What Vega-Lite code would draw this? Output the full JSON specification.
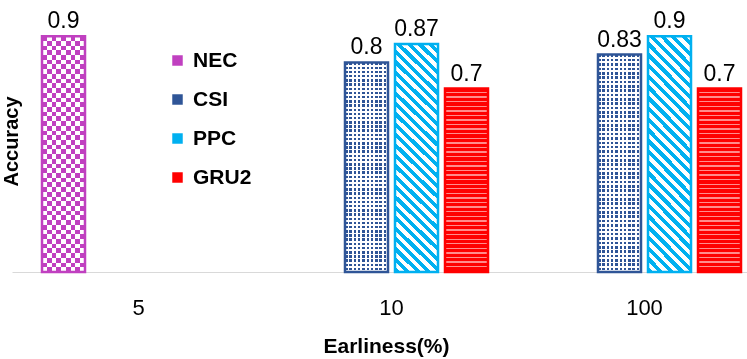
{
  "width": 735,
  "height": 262,
  "autosize": "none",
  "padding": {"left": 12, "top": 10, "right": 0, "bottom": 87},
  "background": "white",
  "config": {"view": {"stroke": null}, "font": "Liberation Sans"},
  "data": {"values": [
    {"cat": "5", "model": "NEC", "acc": 0.9},
    {"cat": "10", "model": "CSI", "acc": 0.8},
    {"cat": "10", "model": "PPC", "acc": 0.87},
    {"cat": "10", "model": "GRU2", "acc": 0.7},
    {"cat": "100", "model": "CSI", "acc": 0.83},
    {"cat": "100", "model": "PPC", "acc": 0.9},
    {"cat": "100", "model": "GRU2", "acc": 0.7}
  ]},
  "encoding": {
    "x": {"field": "cat", "type": "nominal",
      "scale": {"domain": ["5", "10", "100"], "range": [0, 759], "paddingInner": 0, "paddingOuter": 0},
      "axis": {"title": "Earliness(%)", "labelAngle": 0, "ticks": false, "tickSize": 0, "labelPadding": 42, "labelBaseline": "alphabetic",
        "labelFontSize": 22, "labelFont": "Liberation Sans", "labelColor": "#000", "domainColor": "#D9D9D9", "domainWidth": 1, "grid": false,
        "titleFontSize": 21, "titleFontWeight": "bold", "titleFont": "Liberation Sans", "titleColor": "#000",
        "titleX": 374, "titleY": 80, "titleBaseline": "alphabetic", "titleAlign": "center"}},
    "xOffset": {"field": "model", "type": "nominal", "scale": {"domain": ["NEC", "CSI", "PPC", "GRU2"], "paddingInner": 0.14, "paddingOuter": 0.6}},
    "y": {"field": "acc", "type": "quantitative", "scale": {"domain": [0, 1], "nice": false},
      "axis": {"title": "Accuracy", "domain": false, "ticks": false, "labels": false, "grid": false,
        "titleFontSize": 20, "titleFontWeight": "bold", "titleFont": "Liberation Sans", "titleColor": "#000",
        "titleX": 5, "titleY": 131, "titleAngle": -90, "titleBaseline": "alphabetic", "titleAlign": "center"}}
  },
  "layer": [
    {
      "mark": {"type": "bar"},
      "encoding": {
        "color": {"field": "model", "type": "nominal",
          "scale": {"domain": ["NEC", "CSI", "PPC", "GRU2"], "range": ["#C040C0", "#2F5597", "#00B0F0", "#FF0000"]},
          "legend": {"title": null, "orient": "none", "legendX": 155, "legendY": 40, "symbolType": "square", "symbolSize": 110,
            "labelFontSize": 21, "labelFontWeight": "bold", "labelFont": "Liberation Sans", "labelColor": "#000",
            "rowPadding": 17, "labelOffset": 5, "padding": 0, "symbolStrokeWidth": 0}}
      }
    },
    {
      "transform": [{"filter": "datum.model === 'NEC'"}],
      "mark": {"type": "bar", "fill": {"gradient": "linear", "x1": 0, "y1": 0, "x2": 1, "y2": 0, "stops": [
        {"offset": 0, "color": "#000"}, {"offset": 0.1111, "color": "#000"}, {"offset": 0.1111, "color": "#fff"},
        {"offset": 0.2222, "color": "#fff"}, {"offset": 0.2222, "color": "#000"}, {"offset": 0.3333, "color": "#000"},
        {"offset": 0.3333, "color": "#fff"}, {"offset": 0.4444, "color": "#fff"}, {"offset": 0.4444, "color": "#000"},
        {"offset": 0.5556, "color": "#000"}, {"offset": 0.5556, "color": "#fff"}, {"offset": 0.6667, "color": "#fff"},
        {"offset": 0.6667, "color": "#000"}, {"offset": 0.7778, "color": "#000"}, {"offset": 0.7778, "color": "#fff"},
        {"offset": 0.8889, "color": "#fff"}, {"offset": 0.8889, "color": "#000"}, {"offset": 1, "color": "#000"}
      ]}}
    },
    {
      "transform": [{"filter": "datum.model === 'NEC'"}],
      "mark": {"type": "bar", "blend": "difference", "fill": {"gradient": "linear", "x1": 0, "y1": 0, "x2": 0, "y2": 1, "stops": [
        {"offset": 0, "color": "#000"},
        {"offset": 0.02, "color": "#000"}, {"offset": 0.02, "color": "#fff"},
        {"offset": 0.04, "color": "#fff"}, {"offset": 0.04, "color": "#000"},
        {"offset": 0.06, "color": "#000"}, {"offset": 0.06, "color": "#fff"},
        {"offset": 0.08, "color": "#fff"}, {"offset": 0.08, "color": "#000"},
        {"offset": 0.1, "color": "#000"}, {"offset": 0.1, "color": "#fff"},
        {"offset": 0.12, "color": "#fff"}, {"offset": 0.12, "color": "#000"},
        {"offset": 0.14, "color": "#000"}, {"offset": 0.14, "color": "#fff"},
        {"offset": 0.16, "color": "#fff"}, {"offset": 0.16, "color": "#000"},
        {"offset": 0.18, "color": "#000"}, {"offset": 0.18, "color": "#fff"},
        {"offset": 0.2, "color": "#fff"}, {"offset": 0.2, "color": "#000"},
        {"offset": 0.22, "color": "#000"}, {"offset": 0.22, "color": "#fff"},
        {"offset": 0.24, "color": "#fff"}, {"offset": 0.24, "color": "#000"},
        {"offset": 0.26, "color": "#000"}, {"offset": 0.26, "color": "#fff"},
        {"offset": 0.28, "color": "#fff"}, {"offset": 0.28, "color": "#000"},
        {"offset": 0.3, "color": "#000"}, {"offset": 0.3, "color": "#fff"},
        {"offset": 0.32, "color": "#fff"}, {"offset": 0.32, "color": "#000"},
        {"offset": 0.34, "color": "#000"}, {"offset": 0.34, "color": "#fff"},
        {"offset": 0.36, "color": "#fff"}, {"offset": 0.36, "color": "#000"},
        {"offset": 0.38, "color": "#000"}, {"offset": 0.38, "color": "#fff"},
        {"offset": 0.4, "color": "#fff"}, {"offset": 0.4, "color": "#000"},
        {"offset": 0.42, "color": "#000"}, {"offset": 0.42, "color": "#fff"},
        {"offset": 0.44, "color": "#fff"}, {"offset": 0.44, "color": "#000"},
        {"offset": 0.46, "color": "#000"}, {"offset": 0.46, "color": "#fff"},
        {"offset": 0.48, "color": "#fff"}, {"offset": 0.48, "color": "#000"},
        {"offset": 0.5, "color": "#000"}, {"offset": 0.5, "color": "#fff"},
        {"offset": 0.52, "color": "#fff"}, {"offset": 0.52, "color": "#000"},
        {"offset": 0.54, "color": "#000"}, {"offset": 0.54, "color": "#fff"},
        {"offset": 0.56, "color": "#fff"}, {"offset": 0.56, "color": "#000"},
        {"offset": 0.58, "color": "#000"}, {"offset": 0.58, "color": "#fff"},
        {"offset": 0.6, "color": "#fff"}, {"offset": 0.6, "color": "#000"},
        {"offset": 0.62, "color": "#000"}, {"offset": 0.62, "color": "#fff"},
        {"offset": 0.64, "color": "#fff"}, {"offset": 0.64, "color": "#000"},
        {"offset": 0.66, "color": "#000"}, {"offset": 0.66, "color": "#fff"},
        {"offset": 0.68, "color": "#fff"}, {"offset": 0.68, "color": "#000"},
        {"offset": 0.7, "color": "#000"}, {"offset": 0.7, "color": "#fff"},
        {"offset": 0.72, "color": "#fff"}, {"offset": 0.72, "color": "#000"},
        {"offset": 0.74, "color": "#000"}, {"offset": 0.74, "color": "#fff"},
        {"offset": 0.76, "color": "#fff"}, {"offset": 0.76, "color": "#000"},
        {"offset": 0.78, "color": "#000"}, {"offset": 0.78, "color": "#fff"},
        {"offset": 0.8, "color": "#fff"}, {"offset": 0.8, "color": "#000"},
        {"offset": 0.82, "color": "#000"}, {"offset": 0.82, "color": "#fff"},
        {"offset": 0.84, "color": "#fff"}, {"offset": 0.84, "color": "#000"},
        {"offset": 0.86, "color": "#000"}, {"offset": 0.86, "color": "#fff"},
        {"offset": 0.88, "color": "#fff"}, {"offset": 0.88, "color": "#000"},
        {"offset": 0.9, "color": "#000"}, {"offset": 0.9, "color": "#fff"},
        {"offset": 0.92, "color": "#fff"}, {"offset": 0.92, "color": "#000"},
        {"offset": 0.94, "color": "#000"}, {"offset": 0.94, "color": "#fff"},
        {"offset": 0.96, "color": "#fff"}, {"offset": 0.96, "color": "#000"},
        {"offset": 0.98, "color": "#000"}, {"offset": 0.98, "color": "#fff"},
        {"offset": 1, "color": "#fff"}
      ]}}
    },
    {
      "transform": [{"filter": "datum.model === 'NEC'"}],
      "mark": {"type": "bar", "blend": "screen", "fill": "#C040C0"}
    },
    {
      "transform": [{"filter": "datum.model === 'PPC'"}],
      "mark": {"type": "bar", "fill": {"gradient": "linear", "x1": 0, "y1": 1, "x2": 0.2124, "y2": -0.146, "stops": [
        {"offset": 0, "color": "#00B0F0"},
        {"offset": 0.0192, "color": "#00B0F0"}, {"offset": 0.0192, "color": "#fff"},
        {"offset": 0.0385, "color": "#fff"}, {"offset": 0.0385, "color": "#00B0F0"},
        {"offset": 0.0577, "color": "#00B0F0"}, {"offset": 0.0577, "color": "#fff"},
        {"offset": 0.0769, "color": "#fff"}, {"offset": 0.0769, "color": "#00B0F0"},
        {"offset": 0.0962, "color": "#00B0F0"}, {"offset": 0.0962, "color": "#fff"},
        {"offset": 0.1154, "color": "#fff"}, {"offset": 0.1154, "color": "#00B0F0"},
        {"offset": 0.1346, "color": "#00B0F0"}, {"offset": 0.1346, "color": "#fff"},
        {"offset": 0.1538, "color": "#fff"}, {"offset": 0.1538, "color": "#00B0F0"},
        {"offset": 0.1731, "color": "#00B0F0"}, {"offset": 0.1731, "color": "#fff"},
        {"offset": 0.1923, "color": "#fff"}, {"offset": 0.1923, "color": "#00B0F0"},
        {"offset": 0.2115, "color": "#00B0F0"}, {"offset": 0.2115, "color": "#fff"},
        {"offset": 0.2308, "color": "#fff"}, {"offset": 0.2308, "color": "#00B0F0"},
        {"offset": 0.25, "color": "#00B0F0"}, {"offset": 0.25, "color": "#fff"},
        {"offset": 0.2692, "color": "#fff"}, {"offset": 0.2692, "color": "#00B0F0"},
        {"offset": 0.2885, "color": "#00B0F0"}, {"offset": 0.2885, "color": "#fff"},
        {"offset": 0.3077, "color": "#fff"}, {"offset": 0.3077, "color": "#00B0F0"},
        {"offset": 0.3269, "color": "#00B0F0"}, {"offset": 0.3269, "color": "#fff"},
        {"offset": 0.3462, "color": "#fff"}, {"offset": 0.3462, "color": "#00B0F0"},
        {"offset": 0.3654, "color": "#00B0F0"}, {"offset": 0.3654, "color": "#fff"},
        {"offset": 0.3846, "color": "#fff"}, {"offset": 0.3846, "color": "#00B0F0"},
        {"offset": 0.4038, "color": "#00B0F0"}, {"offset": 0.4038, "color": "#fff"},
        {"offset": 0.4231, "color": "#fff"}, {"offset": 0.4231, "color": "#00B0F0"},
        {"offset": 0.4423, "color": "#00B0F0"}, {"offset": 0.4423, "color": "#fff"},
        {"offset": 0.4615, "color": "#fff"}, {"offset": 0.4615, "color": "#00B0F0"},
        {"offset": 0.4808, "color": "#00B0F0"}, {"offset": 0.4808, "color": "#fff"},
        {"offset": 0.5, "color": "#fff"}, {"offset": 0.5, "color": "#00B0F0"},
        {"offset": 0.5192, "color": "#00B0F0"}, {"offset": 0.5192, "color": "#fff"},
        {"offset": 0.5385, "color": "#fff"}, {"offset": 0.5385, "color": "#00B0F0"},
        {"offset": 0.5577, "color": "#00B0F0"}, {"offset": 0.5577, "color": "#fff"},
        {"offset": 0.5769, "color": "#fff"}, {"offset": 0.5769, "color": "#00B0F0"},
        {"offset": 0.5962, "color": "#00B0F0"}, {"offset": 0.5962, "color": "#fff"},
        {"offset": 0.6154, "color": "#fff"}, {"offset": 0.6154, "color": "#00B0F0"},
        {"offset": 0.6346, "color": "#00B0F0"}, {"offset": 0.6346, "color": "#fff"},
        {"offset": 0.6538, "color": "#fff"}, {"offset": 0.6538, "color": "#00B0F0"},
        {"offset": 0.6731, "color": "#00B0F0"}, {"offset": 0.6731, "color": "#fff"},
        {"offset": 0.6923, "color": "#fff"}, {"offset": 0.6923, "color": "#00B0F0"},
        {"offset": 0.7115, "color": "#00B0F0"}, {"offset": 0.7115, "color": "#fff"},
        {"offset": 0.7308, "color": "#fff"}, {"offset": 0.7308, "color": "#00B0F0"},
        {"offset": 0.75, "color": "#00B0F0"}, {"offset": 0.75, "color": "#fff"},
        {"offset": 0.7692, "color": "#fff"}, {"offset": 0.7692, "color": "#00B0F0"},
        {"offset": 0.7885, "color": "#00B0F0"}, {"offset": 0.7885, "color": "#fff"},
        {"offset": 0.8077, "color": "#fff"}, {"offset": 0.8077, "color": "#00B0F0"},
        {"offset": 0.8269, "color": "#00B0F0"}, {"offset": 0.8269, "color": "#fff"},
        {"offset": 0.8462, "color": "#fff"}, {"offset": 0.8462, "color": "#00B0F0"},
        {"offset": 0.8654, "color": "#00B0F0"}, {"offset": 0.8654, "color": "#fff"},
        {"offset": 0.8846, "color": "#fff"}, {"offset": 0.8846, "color": "#00B0F0"},
        {"offset": 0.9038, "color": "#00B0F0"}, {"offset": 0.9038, "color": "#fff"},
        {"offset": 0.9231, "color": "#fff"}, {"offset": 0.9231, "color": "#00B0F0"},
        {"offset": 0.9423, "color": "#00B0F0"}, {"offset": 0.9423, "color": "#fff"},
        {"offset": 0.9615, "color": "#fff"}, {"offset": 0.9615, "color": "#00B0F0"},
        {"offset": 0.9808, "color": "#00B0F0"}, {"offset": 0.9808, "color": "#fff"},
        {"offset": 1, "color": "#fff"}
      ]}}
    },
    {
      "transform": [{"filter": "datum.model === 'CSI'"}],
      "mark": {"type": "bar", "fill": {"gradient": "linear", "x1": 0, "y1": 0, "x2": 1, "y2": 0, "stops": [
        {"offset": 0, "color": "rgba(255,255,255,0)"}, {"offset": 0.06, "color": "rgba(255,255,255,0)"}, {"offset": 0.06, "color": "#fff"}, {"offset": 0.1, "color": "#fff"},
        {"offset": 0.1, "color": "rgba(255,255,255,0)"}, {"offset": 0.16, "color": "rgba(255,255,255,0)"}, {"offset": 0.16, "color": "#fff"}, {"offset": 0.2, "color": "#fff"},
        {"offset": 0.2, "color": "rgba(255,255,255,0)"}, {"offset": 0.26, "color": "rgba(255,255,255,0)"}, {"offset": 0.26, "color": "#fff"}, {"offset": 0.3, "color": "#fff"},
        {"offset": 0.3, "color": "rgba(255,255,255,0)"}, {"offset": 0.36, "color": "rgba(255,255,255,0)"}, {"offset": 0.36, "color": "#fff"}, {"offset": 0.4, "color": "#fff"},
        {"offset": 0.4, "color": "rgba(255,255,255,0)"}, {"offset": 0.46, "color": "rgba(255,255,255,0)"}, {"offset": 0.46, "color": "#fff"}, {"offset": 0.5, "color": "#fff"},
        {"offset": 0.5, "color": "rgba(255,255,255,0)"}, {"offset": 0.56, "color": "rgba(255,255,255,0)"}, {"offset": 0.56, "color": "#fff"}, {"offset": 0.6, "color": "#fff"},
        {"offset": 0.6, "color": "rgba(255,255,255,0)"}, {"offset": 0.66, "color": "rgba(255,255,255,0)"}, {"offset": 0.66, "color": "#fff"}, {"offset": 0.7, "color": "#fff"},
        {"offset": 0.7, "color": "rgba(255,255,255,0)"}, {"offset": 0.76, "color": "rgba(255,255,255,0)"}, {"offset": 0.76, "color": "#fff"}, {"offset": 0.8, "color": "#fff"},
        {"offset": 0.8, "color": "rgba(255,255,255,0)"}, {"offset": 0.86, "color": "rgba(255,255,255,0)"}, {"offset": 0.86, "color": "#fff"}, {"offset": 0.9, "color": "#fff"},
        {"offset": 0.9, "color": "rgba(255,255,255,0)"}, {"offset": 0.96, "color": "rgba(255,255,255,0)"}, {"offset": 0.96, "color": "#fff"}, {"offset": 1, "color": "#fff"}
      ]}}
    },
    {
      "transform": [{"filter": "datum.model === 'CSI'"}],
      "mark": {"type": "bar", "fill": {"gradient": "linear", "x1": 0, "y1": 0, "x2": 0, "y2": 1, "stops": [
        {"offset": 0, "color": "rgba(255,255,255,0)"}, {"offset": 0.012, "color": "rgba(255,255,255,0)"}, {"offset": 0.012, "color": "#fff"}, {"offset": 0.02, "color": "#fff"},
        {"offset": 0.02, "color": "rgba(255,255,255,0)"}, {"offset": 0.032, "color": "rgba(255,255,255,0)"}, {"offset": 0.032, "color": "#fff"}, {"offset": 0.04, "color": "#fff"},
        {"offset": 0.04, "color": "rgba(255,255,255,0)"}, {"offset": 0.052, "color": "rgba(255,255,255,0)"}, {"offset": 0.052, "color": "#fff"}, {"offset": 0.06, "color": "#fff"},
        {"offset": 0.06, "color": "rgba(255,255,255,0)"}, {"offset": 0.072, "color": "rgba(255,255,255,0)"}, {"offset": 0.072, "color": "#fff"}, {"offset": 0.08, "color": "#fff"},
        {"offset": 0.08, "color": "rgba(255,255,255,0)"}, {"offset": 0.092, "color": "rgba(255,255,255,0)"}, {"offset": 0.092, "color": "#fff"}, {"offset": 0.1, "color": "#fff"},
        {"offset": 0.1, "color": "rgba(255,255,255,0)"}, {"offset": 0.112, "color": "rgba(255,255,255,0)"}, {"offset": 0.112, "color": "#fff"}, {"offset": 0.12, "color": "#fff"},
        {"offset": 0.12, "color": "rgba(255,255,255,0)"}, {"offset": 0.132, "color": "rgba(255,255,255,0)"}, {"offset": 0.132, "color": "#fff"}, {"offset": 0.14, "color": "#fff"},
        {"offset": 0.14, "color": "rgba(255,255,255,0)"}, {"offset": 0.152, "color": "rgba(255,255,255,0)"}, {"offset": 0.152, "color": "#fff"}, {"offset": 0.16, "color": "#fff"},
        {"offset": 0.16, "color": "rgba(255,255,255,0)"}, {"offset": 0.172, "color": "rgba(255,255,255,0)"}, {"offset": 0.172, "color": "#fff"}, {"offset": 0.18, "color": "#fff"},
        {"offset": 0.18, "color": "rgba(255,255,255,0)"}, {"offset": 0.192, "color": "rgba(255,255,255,0)"}, {"offset": 0.192, "color": "#fff"}, {"offset": 0.2, "color": "#fff"},
        {"offset": 0.2, "color": "rgba(255,255,255,0)"}, {"offset": 0.212, "color": "rgba(255,255,255,0)"}, {"offset": 0.212, "color": "#fff"}, {"offset": 0.22, "color": "#fff"},
        {"offset": 0.22, "color": "rgba(255,255,255,0)"}, {"offset": 0.232, "color": "rgba(255,255,255,0)"}, {"offset": 0.232, "color": "#fff"}, {"offset": 0.24, "color": "#fff"},
        {"offset": 0.24, "color": "rgba(255,255,255,0)"}, {"offset": 0.252, "color": "rgba(255,255,255,0)"}, {"offset": 0.252, "color": "#fff"}, {"offset": 0.26, "color": "#fff"},
        {"offset": 0.26, "color": "rgba(255,255,255,0)"}, {"offset": 0.272, "color": "rgba(255,255,255,0)"}, {"offset": 0.272, "color": "#fff"}, {"offset": 0.28, "color": "#fff"},
        {"offset": 0.28, "color": "rgba(255,255,255,0)"}, {"offset": 0.292, "color": "rgba(255,255,255,0)"}, {"offset": 0.292, "color": "#fff"}, {"offset": 0.3, "color": "#fff"},
        {"offset": 0.3, "color": "rgba(255,255,255,0)"}, {"offset": 0.312, "color": "rgba(255,255,255,0)"}, {"offset": 0.312, "color": "#fff"}, {"offset": 0.32, "color": "#fff"},
        {"offset": 0.32, "color": "rgba(255,255,255,0)"}, {"offset": 0.332, "color": "rgba(255,255,255,0)"}, {"offset": 0.332, "color": "#fff"}, {"offset": 0.34, "color": "#fff"},
        {"offset": 0.34, "color": "rgba(255,255,255,0)"}, {"offset": 0.352, "color": "rgba(255,255,255,0)"}, {"offset": 0.352, "color": "#fff"}, {"offset": 0.36, "color": "#fff"},
        {"offset": 0.36, "color": "rgba(255,255,255,0)"}, {"offset": 0.372, "color": "rgba(255,255,255,0)"}, {"offset": 0.372, "color": "#fff"}, {"offset": 0.38, "color": "#fff"},
        {"offset": 0.38, "color": "rgba(255,255,255,0)"}, {"offset": 0.392, "color": "rgba(255,255,255,0)"}, {"offset": 0.392, "color": "#fff"}, {"offset": 0.4, "color": "#fff"},
        {"offset": 0.4, "color": "rgba(255,255,255,0)"}, {"offset": 0.412, "color": "rgba(255,255,255,0)"}, {"offset": 0.412, "color": "#fff"}, {"offset": 0.42, "color": "#fff"},
        {"offset": 0.42, "color": "rgba(255,255,255,0)"}, {"offset": 0.432, "color": "rgba(255,255,255,0)"}, {"offset": 0.432, "color": "#fff"}, {"offset": 0.44, "color": "#fff"},
        {"offset": 0.44, "color": "rgba(255,255,255,0)"}, {"offset": 0.452, "color": "rgba(255,255,255,0)"}, {"offset": 0.452, "color": "#fff"}, {"offset": 0.46, "color": "#fff"},
        {"offset": 0.46, "color": "rgba(255,255,255,0)"}, {"offset": 0.472, "color": "rgba(255,255,255,0)"}, {"offset": 0.472, "color": "#fff"}, {"offset": 0.48, "color": "#fff"},
        {"offset": 0.48, "color": "rgba(255,255,255,0)"}, {"offset": 0.492, "color": "rgba(255,255,255,0)"}, {"offset": 0.492, "color": "#fff"}, {"offset": 0.5, "color": "#fff"},
        {"offset": 0.5, "color": "rgba(255,255,255,0)"}, {"offset": 0.512, "color": "rgba(255,255,255,0)"}, {"offset": 0.512, "color": "#fff"}, {"offset": 0.52, "color": "#fff"},
        {"offset": 0.52, "color": "rgba(255,255,255,0)"}, {"offset": 0.532, "color": "rgba(255,255,255,0)"}, {"offset": 0.532, "color": "#fff"}, {"offset": 0.54, "color": "#fff"},
        {"offset": 0.54, "color": "rgba(255,255,255,0)"}, {"offset": 0.552, "color": "rgba(255,255,255,0)"}, {"offset": 0.552, "color": "#fff"}, {"offset": 0.56, "color": "#fff"},
        {"offset": 0.56, "color": "rgba(255,255,255,0)"}, {"offset": 0.572, "color": "rgba(255,255,255,0)"}, {"offset": 0.572, "color": "#fff"}, {"offset": 0.58, "color": "#fff"},
        {"offset": 0.58, "color": "rgba(255,255,255,0)"}, {"offset": 0.592, "color": "rgba(255,255,255,0)"}, {"offset": 0.592, "color": "#fff"}, {"offset": 0.6, "color": "#fff"},
        {"offset": 0.6, "color": "rgba(255,255,255,0)"}, {"offset": 0.612, "color": "rgba(255,255,255,0)"}, {"offset": 0.612, "color": "#fff"}, {"offset": 0.62, "color": "#fff"},
        {"offset": 0.62, "color": "rgba(255,255,255,0)"}, {"offset": 0.632, "color": "rgba(255,255,255,0)"}, {"offset": 0.632, "color": "#fff"}, {"offset": 0.64, "color": "#fff"},
        {"offset": 0.64, "color": "rgba(255,255,255,0)"}, {"offset": 0.652, "color": "rgba(255,255,255,0)"}, {"offset": 0.652, "color": "#fff"}, {"offset": 0.66, "color": "#fff"},
        {"offset": 0.66, "color": "rgba(255,255,255,0)"}, {"offset": 0.672, "color": "rgba(255,255,255,0)"}, {"offset": 0.672, "color": "#fff"}, {"offset": 0.68, "color": "#fff"},
        {"offset": 0.68, "color": "rgba(255,255,255,0)"}, {"offset": 0.692, "color": "rgba(255,255,255,0)"}, {"offset": 0.692, "color": "#fff"}, {"offset": 0.7, "color": "#fff"},
        {"offset": 0.7, "color": "rgba(255,255,255,0)"}, {"offset": 0.712, "color": "rgba(255,255,255,0)"}, {"offset": 0.712, "color": "#fff"}, {"offset": 0.72, "color": "#fff"},
        {"offset": 0.72, "color": "rgba(255,255,255,0)"}, {"offset": 0.732, "color": "rgba(255,255,255,0)"}, {"offset": 0.732, "color": "#fff"}, {"offset": 0.74, "color": "#fff"},
        {"offset": 0.74, "color": "rgba(255,255,255,0)"}, {"offset": 0.752, "color": "rgba(255,255,255,0)"}, {"offset": 0.752, "color": "#fff"}, {"offset": 0.76, "color": "#fff"},
        {"offset": 0.76, "color": "rgba(255,255,255,0)"}, {"offset": 0.772, "color": "rgba(255,255,255,0)"}, {"offset": 0.772, "color": "#fff"}, {"offset": 0.78, "color": "#fff"},
        {"offset": 0.78, "color": "rgba(255,255,255,0)"}, {"offset": 0.792, "color": "rgba(255,255,255,0)"}, {"offset": 0.792, "color": "#fff"}, {"offset": 0.8, "color": "#fff"},
        {"offset": 0.8, "color": "rgba(255,255,255,0)"}, {"offset": 0.812, "color": "rgba(255,255,255,0)"}, {"offset": 0.812, "color": "#fff"}, {"offset": 0.82, "color": "#fff"},
        {"offset": 0.82, "color": "rgba(255,255,255,0)"}, {"offset": 0.832, "color": "rgba(255,255,255,0)"}, {"offset": 0.832, "color": "#fff"}, {"offset": 0.84, "color": "#fff"},
        {"offset": 0.84, "color": "rgba(255,255,255,0)"}, {"offset": 0.852, "color": "rgba(255,255,255,0)"}, {"offset": 0.852, "color": "#fff"}, {"offset": 0.86, "color": "#fff"},
        {"offset": 0.86, "color": "rgba(255,255,255,0)"}, {"offset": 0.872, "color": "rgba(255,255,255,0)"}, {"offset": 0.872, "color": "#fff"}, {"offset": 0.88, "color": "#fff"},
        {"offset": 0.88, "color": "rgba(255,255,255,0)"}, {"offset": 0.892, "color": "rgba(255,255,255,0)"}, {"offset": 0.892, "color": "#fff"}, {"offset": 0.9, "color": "#fff"},
        {"offset": 0.9, "color": "rgba(255,255,255,0)"}, {"offset": 0.912, "color": "rgba(255,255,255,0)"}, {"offset": 0.912, "color": "#fff"}, {"offset": 0.92, "color": "#fff"},
        {"offset": 0.92, "color": "rgba(255,255,255,0)"}, {"offset": 0.932, "color": "rgba(255,255,255,0)"}, {"offset": 0.932, "color": "#fff"}, {"offset": 0.94, "color": "#fff"},
        {"offset": 0.94, "color": "rgba(255,255,255,0)"}, {"offset": 0.952, "color": "rgba(255,255,255,0)"}, {"offset": 0.952, "color": "#fff"}, {"offset": 0.96, "color": "#fff"},
        {"offset": 0.96, "color": "rgba(255,255,255,0)"}, {"offset": 0.972, "color": "rgba(255,255,255,0)"}, {"offset": 0.972, "color": "#fff"}, {"offset": 0.98, "color": "#fff"},
        {"offset": 0.98, "color": "rgba(255,255,255,0)"}, {"offset": 0.992, "color": "rgba(255,255,255,0)"}, {"offset": 0.992, "color": "#fff"}, {"offset": 1, "color": "#fff"}
      ]}}
    },
    {
      "transform": [{"filter": "datum.model === 'GRU2'"}],
      "mark": {"type": "bar", "fill": {"gradient": "linear", "x1": 0, "y1": 0, "x2": 0, "y2": 1, "stops": [
        {"offset": 0, "color": "rgba(255,255,255,0)"}, {"offset": 0.0175, "color": "rgba(255,255,255,0)"}, {"offset": 0.0175, "color": "rgba(255,255,255,0.55)"}, {"offset": 0.025, "color": "rgba(255,255,255,0.55)"},
        {"offset": 0.025, "color": "rgba(255,255,255,0)"}, {"offset": 0.0425, "color": "rgba(255,255,255,0)"}, {"offset": 0.0425, "color": "rgba(255,255,255,0.55)"}, {"offset": 0.05, "color": "rgba(255,255,255,0.55)"},
        {"offset": 0.05, "color": "rgba(255,255,255,0)"}, {"offset": 0.0675, "color": "rgba(255,255,255,0)"}, {"offset": 0.0675, "color": "rgba(255,255,255,0.55)"}, {"offset": 0.075, "color": "rgba(255,255,255,0.55)"},
        {"offset": 0.075, "color": "rgba(255,255,255,0)"}, {"offset": 0.0925, "color": "rgba(255,255,255,0)"}, {"offset": 0.0925, "color": "rgba(255,255,255,0.55)"}, {"offset": 0.1, "color": "rgba(255,255,255,0.55)"},
        {"offset": 0.1, "color": "rgba(255,255,255,0)"}, {"offset": 0.1175, "color": "rgba(255,255,255,0)"}, {"offset": 0.1175, "color": "rgba(255,255,255,0.55)"}, {"offset": 0.125, "color": "rgba(255,255,255,0.55)"},
        {"offset": 0.125, "color": "rgba(255,255,255,0)"}, {"offset": 0.1425, "color": "rgba(255,255,255,0)"}, {"offset": 0.1425, "color": "rgba(255,255,255,0.55)"}, {"offset": 0.15, "color": "rgba(255,255,255,0.55)"},
        {"offset": 0.15, "color": "rgba(255,255,255,0)"}, {"offset": 0.1675, "color": "rgba(255,255,255,0)"}, {"offset": 0.1675, "color": "rgba(255,255,255,0.55)"}, {"offset": 0.175, "color": "rgba(255,255,255,0.55)"},
        {"offset": 0.175, "color": "rgba(255,255,255,0)"}, {"offset": 0.1925, "color": "rgba(255,255,255,0)"}, {"offset": 0.1925, "color": "rgba(255,255,255,0.55)"}, {"offset": 0.2, "color": "rgba(255,255,255,0.55)"},
        {"offset": 0.2, "color": "rgba(255,255,255,0)"}, {"offset": 0.2175, "color": "rgba(255,255,255,0)"}, {"offset": 0.2175, "color": "rgba(255,255,255,0.55)"}, {"offset": 0.225, "color": "rgba(255,255,255,0.55)"},
        {"offset": 0.225, "color": "rgba(255,255,255,0)"}, {"offset": 0.2425, "color": "rgba(255,255,255,0)"}, {"offset": 0.2425, "color": "rgba(255,255,255,0.55)"}, {"offset": 0.25, "color": "rgba(255,255,255,0.55)"},
        {"offset": 0.25, "color": "rgba(255,255,255,0)"}, {"offset": 0.2675, "color": "rgba(255,255,255,0)"}, {"offset": 0.2675, "color": "rgba(255,255,255,0.55)"}, {"offset": 0.275, "color": "rgba(255,255,255,0.55)"},
        {"offset": 0.275, "color": "rgba(255,255,255,0)"}, {"offset": 0.2925, "color": "rgba(255,255,255,0)"}, {"offset": 0.2925, "color": "rgba(255,255,255,0.55)"}, {"offset": 0.3, "color": "rgba(255,255,255,0.55)"},
        {"offset": 0.3, "color": "rgba(255,255,255,0)"}, {"offset": 0.3175, "color": "rgba(255,255,255,0)"}, {"offset": 0.3175, "color": "rgba(255,255,255,0.55)"}, {"offset": 0.325, "color": "rgba(255,255,255,0.55)"},
        {"offset": 0.325, "color": "rgba(255,255,255,0)"}, {"offset": 0.3425, "color": "rgba(255,255,255,0)"}, {"offset": 0.3425, "color": "rgba(255,255,255,0.55)"}, {"offset": 0.35, "color": "rgba(255,255,255,0.55)"},
        {"offset": 0.35, "color": "rgba(255,255,255,0)"}, {"offset": 0.3675, "color": "rgba(255,255,255,0)"}, {"offset": 0.3675, "color": "rgba(255,255,255,0.55)"}, {"offset": 0.375, "color": "rgba(255,255,255,0.55)"},
        {"offset": 0.375, "color": "rgba(255,255,255,0)"}, {"offset": 0.3925, "color": "rgba(255,255,255,0)"}, {"offset": 0.3925, "color": "rgba(255,255,255,0.55)"}, {"offset": 0.4, "color": "rgba(255,255,255,0.55)"},
        {"offset": 0.4, "color": "rgba(255,255,255,0)"}, {"offset": 0.4175, "color": "rgba(255,255,255,0)"}, {"offset": 0.4175, "color": "rgba(255,255,255,0.55)"}, {"offset": 0.425, "color": "rgba(255,255,255,0.55)"},
        {"offset": 0.425, "color": "rgba(255,255,255,0)"}, {"offset": 0.4425, "color": "rgba(255,255,255,0)"}, {"offset": 0.4425, "color": "rgba(255,255,255,0.55)"}, {"offset": 0.45, "color": "rgba(255,255,255,0.55)"},
        {"offset": 0.45, "color": "rgba(255,255,255,0)"}, {"offset": 0.4675, "color": "rgba(255,255,255,0)"}, {"offset": 0.4675, "color": "rgba(255,255,255,0.55)"}, {"offset": 0.475, "color": "rgba(255,255,255,0.55)"},
        {"offset": 0.475, "color": "rgba(255,255,255,0)"}, {"offset": 0.4925, "color": "rgba(255,255,255,0)"}, {"offset": 0.4925, "color": "rgba(255,255,255,0.55)"}, {"offset": 0.5, "color": "rgba(255,255,255,0.55)"},
        {"offset": 0.5, "color": "rgba(255,255,255,0)"}, {"offset": 0.5175, "color": "rgba(255,255,255,0)"}, {"offset": 0.5175, "color": "rgba(255,255,255,0.55)"}, {"offset": 0.525, "color": "rgba(255,255,255,0.55)"},
        {"offset": 0.525, "color": "rgba(255,255,255,0)"}, {"offset": 0.5425, "color": "rgba(255,255,255,0)"}, {"offset": 0.5425, "color": "rgba(255,255,255,0.55)"}, {"offset": 0.55, "color": "rgba(255,255,255,0.55)"},
        {"offset": 0.55, "color": "rgba(255,255,255,0)"}, {"offset": 0.5675, "color": "rgba(255,255,255,0)"}, {"offset": 0.5675, "color": "rgba(255,255,255,0.55)"}, {"offset": 0.575, "color": "rgba(255,255,255,0.55)"},
        {"offset": 0.575, "color": "rgba(255,255,255,0)"}, {"offset": 0.5925, "color": "rgba(255,255,255,0)"}, {"offset": 0.5925, "color": "rgba(255,255,255,0.55)"}, {"offset": 0.6, "color": "rgba(255,255,255,0.55)"},
        {"offset": 0.6, "color": "rgba(255,255,255,0)"}, {"offset": 0.6175, "color": "rgba(255,255,255,0)"}, {"offset": 0.6175, "color": "rgba(255,255,255,0.55)"}, {"offset": 0.625, "color": "rgba(255,255,255,0.55)"},
        {"offset": 0.625, "color": "rgba(255,255,255,0)"}, {"offset": 0.6425, "color": "rgba(255,255,255,0)"}, {"offset": 0.6425, "color": "rgba(255,255,255,0.55)"}, {"offset": 0.65, "color": "rgba(255,255,255,0.55)"},
        {"offset": 0.65, "color": "rgba(255,255,255,0)"}, {"offset": 0.6675, "color": "rgba(255,255,255,0)"}, {"offset": 0.6675, "color": "rgba(255,255,255,0.55)"}, {"offset": 0.675, "color": "rgba(255,255,255,0.55)"},
        {"offset": 0.675, "color": "rgba(255,255,255,0)"}, {"offset": 0.6925, "color": "rgba(255,255,255,0)"}, {"offset": 0.6925, "color": "rgba(255,255,255,0.55)"}, {"offset": 0.7, "color": "rgba(255,255,255,0.55)"},
        {"offset": 0.7, "color": "rgba(255,255,255,0)"}, {"offset": 0.7175, "color": "rgba(255,255,255,0)"}, {"offset": 0.7175, "color": "rgba(255,255,255,0.55)"}, {"offset": 0.725, "color": "rgba(255,255,255,0.55)"},
        {"offset": 0.725, "color": "rgba(255,255,255,0)"}, {"offset": 0.7425, "color": "rgba(255,255,255,0)"}, {"offset": 0.7425, "color": "rgba(255,255,255,0.55)"}, {"offset": 0.75, "color": "rgba(255,255,255,0.55)"},
        {"offset": 0.75, "color": "rgba(255,255,255,0)"}, {"offset": 0.7675, "color": "rgba(255,255,255,0)"}, {"offset": 0.7675, "color": "rgba(255,255,255,0.55)"}, {"offset": 0.775, "color": "rgba(255,255,255,0.55)"},
        {"offset": 0.775, "color": "rgba(255,255,255,0)"}, {"offset": 0.7925, "color": "rgba(255,255,255,0)"}, {"offset": 0.7925, "color": "rgba(255,255,255,0.55)"}, {"offset": 0.8, "color": "rgba(255,255,255,0.55)"},
        {"offset": 0.8, "color": "rgba(255,255,255,0)"}, {"offset": 0.8175, "color": "rgba(255,255,255,0)"}, {"offset": 0.8175, "color": "rgba(255,255,255,0.55)"}, {"offset": 0.825, "color": "rgba(255,255,255,0.55)"},
        {"offset": 0.825, "color": "rgba(255,255,255,0)"}, {"offset": 0.8425, "color": "rgba(255,255,255,0)"}, {"offset": 0.8425, "color": "rgba(255,255,255,0.55)"}, {"offset": 0.85, "color": "rgba(255,255,255,0.55)"},
        {"offset": 0.85, "color": "rgba(255,255,255,0)"}, {"offset": 0.8675, "color": "rgba(255,255,255,0)"}, {"offset": 0.8675, "color": "rgba(255,255,255,0.55)"}, {"offset": 0.875, "color": "rgba(255,255,255,0.55)"},
        {"offset": 0.875, "color": "rgba(255,255,255,0)"}, {"offset": 0.8925, "color": "rgba(255,255,255,0)"}, {"offset": 0.8925, "color": "rgba(255,255,255,0.55)"}, {"offset": 0.9, "color": "rgba(255,255,255,0.55)"},
        {"offset": 0.9, "color": "rgba(255,255,255,0)"}, {"offset": 0.9175, "color": "rgba(255,255,255,0)"}, {"offset": 0.9175, "color": "rgba(255,255,255,0.55)"}, {"offset": 0.925, "color": "rgba(255,255,255,0.55)"},
        {"offset": 0.925, "color": "rgba(255,255,255,0)"}, {"offset": 0.9425, "color": "rgba(255,255,255,0)"}, {"offset": 0.9425, "color": "rgba(255,255,255,0.55)"}, {"offset": 0.95, "color": "rgba(255,255,255,0.55)"},
        {"offset": 0.95, "color": "rgba(255,255,255,0)"}, {"offset": 0.9675, "color": "rgba(255,255,255,0)"}, {"offset": 0.9675, "color": "rgba(255,255,255,0.55)"}, {"offset": 0.975, "color": "rgba(255,255,255,0.55)"},
        {"offset": 0.975, "color": "rgba(255,255,255,0)"}, {"offset": 0.9925, "color": "rgba(255,255,255,0)"}, {"offset": 0.9925, "color": "rgba(255,255,255,0.55)"}, {"offset": 1, "color": "rgba(255,255,255,0.55)"}
      ]}}
    },
    {
      "mark": {"type": "bar", "fill": "transparent", "strokeWidth": 2.5},
      "encoding": {
        "stroke": {"field": "model", "type": "nominal",
          "scale": {"domain": ["NEC", "CSI", "PPC", "GRU2"], "range": ["#C040C0", "#2F5597", "#00B0F0", "#FF0000"]},
          "legend": null}
      }
    },
    {
      "mark": {"type": "text", "baseline": "alphabetic", "dy": -8, "fontSize": 23, "font": "Liberation Sans", "color": "#000"},
      "encoding": {"text": {"field": "acc", "type": "quantitative"}}
    }
  ]
}
